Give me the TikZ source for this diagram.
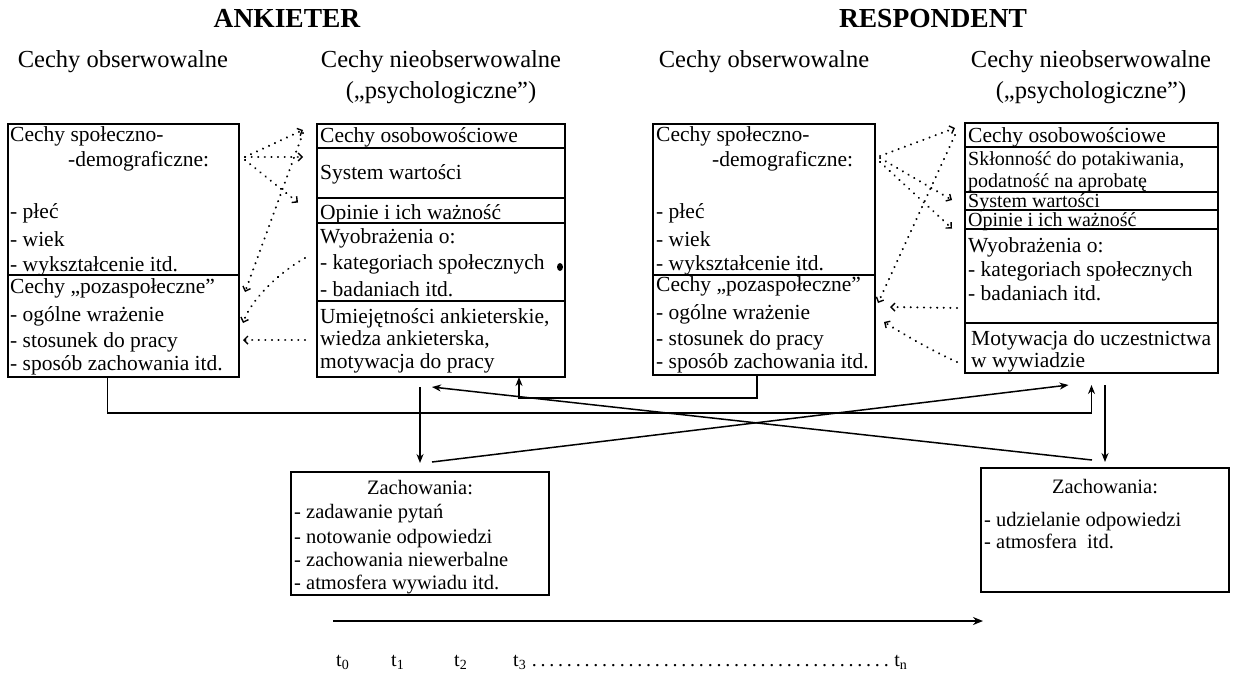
\documentclass[tikz,border=0pt]{standalone}
\usepackage{fontspec}
\setmainfont{Liberation Serif}
\usetikzlibrary{arrows.meta,calc}
\newcommand\myrow[5]{\node[rowbox, minimum width={#4-#2}, minimum height={#5-#3}] (#1) at ({(#2+#4)/2},{(#3+#5)/2}) {};}
\newcommand\mytx[4]{\node[txt] (#1) at (#2,#3) {#4};}
\newcommand\mytc[4]{\node[txtc] (#1) at (#2,#3) {#4};}
\newcommand\mytb[4]{\node[txtb] (#1) at (#2,#3) {#4};}
\begin{document}
\begin{tikzpicture}[x=1pt,y=-1pt,
  rowbox/.style={draw, line width=1.5pt, inner sep=0pt, outer sep=0pt, rectangle},
  txt/.style={anchor=base west, inner sep=0pt, font=\fontsize{21.5}{26}\selectfont},
  txtc/.style={anchor=base west, inner sep=0pt, font=\fontsize{20}{24}\selectfont},
  txtb/.style={anchor=base west, inner sep=0pt, font=\fontsize{20.5}{25}\selectfont},
  hdr/.style={anchor=base, inner sep=0pt, font=\fontsize{24.5}{28}\selectfont},
  ttl/.style={anchor=base, inner sep=0pt, font=\bfseries\fontsize{27.5}{30}\selectfont},
  conn/.style={line width=1.5pt},
  arr/.style={conn, -{Stealth[length=9pt,width=7pt]}},
  dotarr/.style={line width=2.2pt, dash pattern=on 0.1pt off 6.5pt, line cap=round,
     -{Straight Barb[length=4pt,width=8pt,line width=1.4pt]}},
  tl/.style={anchor=base west, inner sep=0pt, font=\fontsize{20}{24}\selectfont}
]
\useasboundingbox (0,0) rectangle (1233,672);
\fill[white] (0,0) rectangle (1233,672);

% titles and headers
\node[ttl] (ank) at (287,27) {ANKIETER};
\node[ttl] (res) at (933,27) {RESPONDENT};
\node[hdr] (h1) at (123,67) {Cechy obserwowalne};
\node[hdr] (h2) at (441,67) {Cechy nieobserwowalne};
\node[hdr] (h2b) at (441,98) {(„psychologiczne”)};
\node[hdr] (h3) at (764,67) {Cechy obserwowalne};
\node[hdr] (h4) at (1091,67) {Cechy nieobserwowalne};
\node[hdr] (h4b) at (1091,98) {(„psychologiczne”)};

% box 1
\myrow{sd1}{8}{124}{239}{275}
\myrow{pz1}{8}{275}{239}{377}
\mytx{a1}{10}{141}{Cechy społeczno-}
\mytx{a2}{68}{166}{-demograficzne:}
\mytx{a3}{10}{218}{- płeć}
\mytx{a4}{10}{246}{- wiek}
\mytx{a5}{10}{271}{- wykształcenie itd.}
\mytx{a6}{10}{293}{Cechy „pozaspołeczne”}
\mytx{a7}{10}{321}{- ogólne wrażenie}
\mytx{a8}{10}{347}{- stosunek do pracy}
\mytx{a9}{10}{370}{- sposób zachowania itd.}

% box 2
\myrow{b2a}{317}{124}{565}{148}
\myrow{b2b}{317}{148}{565}{198}
\myrow{b2c}{317}{198}{565}{223}
\myrow{b2d}{317}{223}{565}{301}
\myrow{b2e}{317}{301}{565}{377}
\mytx{c1}{320}{142}{Cechy osobowościowe}
\mytx{c2}{320}{179}{System wartości}
\mytx{c3}{320}{219}{Opinie i ich ważność}
\mytx{c4}{320}{243}{Wyobrażenia o:}
\mytx{c5}{320}{269}{- kategoriach społecznych}
\mytx{c6}{320}{296}{- badaniach itd.}
\mytx{c7}{320}{323}{Umiejętności ankieterskie,}
\mytx{c8}{320}{345}{wiedza ankieterska,}
\mytx{c9}{320}{368}{motywacja do pracy}
\fill (560,267) ellipse (3pt and 4pt);

% box 3
\myrow{sd2}{653}{124}{875}{275}
\myrow{pz2}{653}{275}{875}{375}
\mytx{e1}{656}{141}{Cechy społeczno-}
\mytx{e2}{712}{166}{-demograficzne:}
\mytx{e3}{656}{218}{- płeć}
\mytx{e4}{656}{246}{- wiek}
\mytx{e5}{656}{270}{- wykształcenie itd.}
\mytx{e6}{656}{291}{Cechy „pozaspołeczne”}
\mytx{e7}{656}{319}{- ogólne wrażenie}
\mytx{e8}{656}{345}{- stosunek do pracy}
\mytx{e9}{656}{368}{- sposób zachowania itd.}

% box 4
\myrow{b4a}{965}{123}{1218}{147}
\myrow{b4b}{965}{147}{1218}{192}
\myrow{b4c}{965}{192}{1218}{210}
\myrow{b4d}{965}{210}{1218}{229}
\myrow{b4e}{965}{229}{1218}{323}
\myrow{b4f}{965}{323}{1218}{373}
\mytx{f1}{968}{142}{Cechy osobowościowe}
\mytc{f2}{968}{165}{Skłonność do potakiwania,}
\mytc{f3}{968}{187}{podatność na aprobatę}
\mytc{f4}{968}{207}{System wartości}
\mytc{f5}{968}{226}{Opinie i ich ważność}
\mytx{f6}{968}{252}{Wyobrażenia o:}
\mytx{f7}{968}{276}{- kategoriach społecznych}
\mytx{f8}{968}{300}{- badaniach itd.}
\mytx{f9}{971}{345}{Motywacja do uczestnictwa}
\mytx{f10}{971}{367}{w wywiadzie}

% bottom boxes
\myrow{zl}{291}{472}{549}{595}
\node[txtb, anchor=base] (g1) at (420,494) {Zachowania:};
\mytb{g2}{294}{518}{- zadawanie pytań}
\mytb{g3}{294}{543}{- notowanie odpowiedzi}
\mytb{g4}{294}{566}{- zachowania niewerbalne}
\mytb{g5}{294}{589}{- atmosfera wywiadu itd.}

\myrow{zr}{981}{468}{1229}{592}
\node[txtb, anchor=base] (k1) at (1105,493) {Zachowania:};
\mytb{k2}{984}{526}{- udzielanie odpowiedzi}
\mytb{k3}{984}{548}{- atmosfera\ \ itd.}

% solid connectors
\draw[arr] ($(pz1.south)+(-16,0)$) |- ($(b4f.south)+(0,40)$) -- ($(b4f.south)+(0,12)$);
\draw[arr] ($(pz2.south)+(-7,0)$) |- ($(b2e.south)+(78,21)$) -- ($(b2e.south)+(78,0)$);
\draw[arr] ($(b2e.south -| zl.north)+(0,10)$) -- ($(zl.north)+(0,-9)$);
\draw[arr] ($(zl.north)+(12,-10)$) -- ($(b4f.south)+(-23,12)$);
\draw[arr] ($(zr.north)+(-13,-8)$) -- ($(b2e.south)+(-9,10)$);
\draw[arr] ($(b4f.south -| zr.north)+(0,12)$) -- ($(zr.north)+(0,-6)$);

% dotted connectors, interviewer
\draw[dotarr] ($(sd1.north east)+(6,33)$) -- ($(b2a.west)+(-14,-6)$);
\draw[dotarr] ($(sd1.north east)+(6,33)$) -- ($(b2b.west)+(-14,-16)$);
\draw[dotarr] ($(sd1.north east)+(6,36)$) -- ($(b2c.west)+(-19,-8)$);
\draw[dotarr] ($(b2a.west)+(-14,-3)$) -- ($(pz1.north east)+(6,17)$);
\draw[dotarr] ($(b2d.west)+(-12,-4)$) .. controls (280,272) and (252,298) .. ($(pz1.east)+(4,-3)$);
\draw[dotarr] ($(b2e.west)+(-12,1)$) -- ($(pz1.east)+(4,14)$);

% dotted connectors, respondent
\draw[dotarr] ($(sd2.north east)+(5,32)$) -- ($(b4a.west)+(-10,-7)$);
\draw[dotarr] ($(sd2.north east)+(5,34)$) -- ($(b4c.west)+(-13,-1)$);
\draw[dotarr] ($(sd2.north east)+(5,38)$) -- ($(b4d.west)+(-13,9)$);
\draw[dotarr] ($(b4a.west)+(-10,0)$) -- ($(pz2.north east)+(3,28)$);
\draw[dotarr] ($(b4e.west)+(-8,32)$) -- ($(pz2.east)+(15,-18)$);
\draw[dotarr] ($(b4f.west)+(-8,14)$) .. controls (930,350) and (900,332) .. ($(pz2.east)+(9,-3)$);

% timeline
\coordinate (ts) at (333,621);
\coordinate (te) at (983,621);
\draw[line width=2pt, -{Stealth[length=10pt,width=8pt]}] (ts) -- (te);
\node[tl] (t0) at (336,666) {t\textsubscript{0}};
\node[tl] (t1) at (391,666) {t\textsubscript{1}};
\node[tl] (t2) at (454,666) {t\textsubscript{2}};
\node[tl] (t3) at (513,666) {t\textsubscript{3}\hbox to 368pt{\dotfill}t\textsubscript{n}};
\end{tikzpicture}
\end{document}
